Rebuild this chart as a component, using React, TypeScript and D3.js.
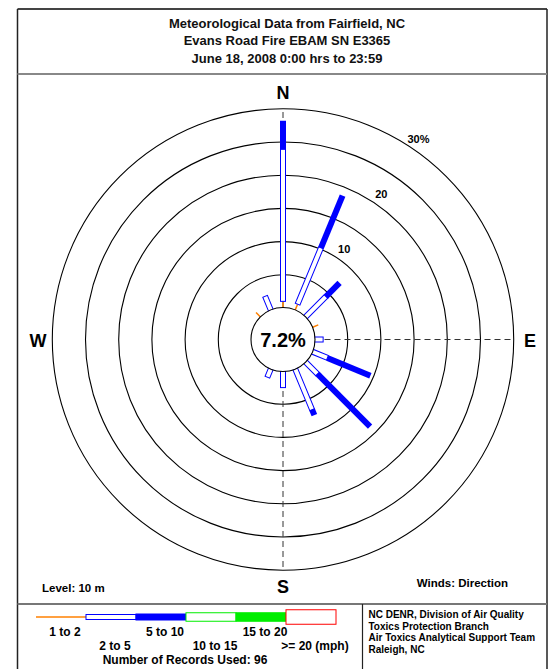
import React from "react";
import * as d3 from "d3";

// ---------- data (percent of records) ----------
const directions = ["N", "NNE", "NE", "ENE", "E", "ESE", "SE", "SSE", "S", "SSW", "SW", "WSW", "W", "WNW", "NW", "NNW"];
const speed1to2 = [1.0, 1.0, 0, 1.0, 0, 0, 0, 0, 0, 0, 0, 0, 0, 0, 1.0, 0];
const speed2to5 = [22.9, 9.2, 4.4, 0, 1.3, 2.5, 2.6, 6.7, 2.5, 1.4, 0, 0, 0, 0, 0, 2.3];
const speed5to10 = [4.3, 8.5, 2.9, 0, 0, 7.0, 11.2, 0.9, 0, 0, 0, 0, 0, 0, 0, 0];
const speed10to15 = [0, 0, 0, 0, 0, 0, 0, 0, 0, 0, 0, 0, 0, 0, 0, 0];
const speed15to20 = [0, 0, 0, 0, 0, 0, 0, 0, 0, 0, 0, 0, 0, 0, 0, 0];
const speed20plus = [0, 0, 0, 0, 0, 0, 0, 0, 0, 0, 0, 0, 0, 0, 0, 0];
const calmPercent = 7.2;

const ringValues = [5, 10, 15, 20, 25, 30];
const labeledRings = [10, 20, 30];
const ringLabelTexts = ["10", "20", "30%"];

const speedClasses = ["1 to 2", "2 to 5", "5 to 10", "10 to 15", "15 to 20", ">= 20 (mph)"];
const titleLines = [
  "Meteorological Data from Fairfield, NC",
  "Evans Road Fire EBAM SN E3365",
  "June 18, 2008 0:00 hrs to 23:59",
];
const agencyLines = [
  "NC DENR, Division of Air Quality",
  "Toxics Protection Branch",
  "Air Toxics Analytical Support Team",
  "Raleigh, NC",
];
const recordsUsed = 96;
const levelText = "Level: 10 m";
const windsText = "Winds: Direction";

// ---------- styles ----------
const FONT = "'Liberation Sans', Arial, Helvetica, sans-serif";
const classStyles = [
  { kind: "line", color: "#ff8000", w: 1.5 },
  { kind: "hollow", color: "#0000ff", w: 5 },
  { kind: "filled", color: "#0000ff", w: 6 },
  { kind: "hollow", color: "#00ee00", w: 8.5 },
  { kind: "filled", color: "#00ee00", w: 8.5 },
  { kind: "hollow", color: "#ff0000", w: 14.5 },
];

const W = 554;
const H = 669;
const cx = 283;
const cy = 339.5;
const r0 = 31.5;
const rMax = 230.7;

export default function App() {
  const series = [speed1to2, speed2to5, speed5to10, speed10to15, speed15to20, speed20plus];
  const rScale = d3.scaleLinear().domain([0, 30]).range([r0, rMax]);
  const angle = d3.scaleBand().domain(directions).range([0, 360]).align(0).paddingInner(0).paddingOuter(0);
  const bearing = (d: string) => angle(d) as number;

  const legendX = d3.scaleBand().domain(speedClasses).range([36, 336]);
  const legendY = 617;

  const bars: React.ReactNode[] = [];
  directions.forEach((dir, i) => {
    let cum = 0;
    series.forEach((s, c) => {
      const v = s[i];
      if (v <= 0) return;
      const ra = rScale(cum);
      const rb = rScale(cum + v);
      cum += v;
      const st = classStyles[c];
      const tr = `translate(${cx},${cy}) rotate(${bearing(dir)})`;
      if (st.kind === "line") {
        bars.push(
          <line key={`${dir}-${c}`} x1={0} x2={0} y1={-ra} y2={-rb} stroke={st.color} strokeWidth={st.w} transform={tr} />
        );
      } else {
        bars.push(
          <rect
            key={`${dir}-${c}`}
            x={-st.w / 2}
            y={-rb}
            width={st.w}
            height={rb - ra}
            fill={st.kind === "filled" ? st.color : "#ffffff"}
            stroke={st.kind === "filled" ? "none" : st.color}
            strokeWidth={1}
            transform={tr}
          />
        );
      }
    });
  });

  const dashedDirs = ["N", "E", "S"];
  const labelAngle = 34;

  return (
    <svg
      width={W}
      height={H}
      style={{ position: "absolute", left: 0, top: 0, background: "#fff", fontFamily: FONT }}
    >
      <rect x={0} y={0} width={W} height={H} fill="#fff" />
      {/* frame */}
      <line x1={17.5} x2={547} y1={9} y2={9} stroke="#444" strokeWidth={2} />
      <line x1={17.5} x2={17.5} y1={9} y2={H} stroke="#222" strokeWidth={1.5} />
      <line x1={547} x2={547} y1={9} y2={H} stroke="#222" strokeWidth={1.5} />
      <line x1={17.5} x2={547} y1={74} y2={74} stroke="#888" strokeWidth={2} />
      <line x1={17.5} x2={547} y1={604} y2={604} stroke="#777" strokeWidth={2} />
      <line x1={362.5} x2={362.5} y1={604} y2={H} stroke="#222" strokeWidth={1.2} />

      {/* title */}
      {titleLines.map((t, i) => (
        <text key={t} x={287} y={27.5 + i * 17.5} textAnchor="middle" fontSize={13} fontWeight="bold" fill="#111">
          {t}
        </text>
      ))}

      {/* rings */}
      {ringValues.map((v) => (
        <circle key={v} cx={cx} cy={cy} r={rScale(v)} fill="none" stroke="#000" strokeWidth={1.1} />
      ))}

      {/* dashed axes */}
      {dashedDirs.map((d) => (
        <line
          key={d}
          x1={0}
          x2={0}
          y1={-r0}
          y2={-rMax}
          stroke="#333"
          strokeWidth={1}
          strokeDasharray="6,4"
          transform={`translate(${cx},${cy}) rotate(${bearing(d)})`}
        />
      ))}

      {/* bars */}
      {bars}

      {/* calm circle */}
      <circle cx={cx} cy={cy} r={r0 + 0.5} fill="#fff" stroke="#000" strokeWidth={1.1} />
      <text x={cx} y={cy + 7} textAnchor="middle" fontSize={20} fontWeight="bold" fill="#000">
        {`${calmPercent.toFixed(1)}%`}
      </text>

      {/* ring labels */}
      {labeledRings.map((v, i) => {
        const rr = rScale(v) + 11.5;
        const a = (labelAngle * Math.PI) / 180;
        return (
          <text
            key={v}
            x={cx + rr * Math.sin(a)}
            y={cy - rr * Math.cos(a) + 4}
            textAnchor="middle"
            fontSize={11}
            fontWeight="bold"
            fill="#000"
          >
            {ringLabelTexts[i]}
          </text>
        );
      })}

      {/* compass letters */}
      <text x={cx} y={98.5} textAnchor="middle" fontSize={18} fontWeight="bold">N</text>
      <text x={cx} y={593} textAnchor="middle" fontSize={18} fontWeight="bold">S</text>
      <text x={38} y={346.5} textAnchor="middle" fontSize={18} fontWeight="bold">W</text>
      <text x={530} y={346.5} textAnchor="middle" fontSize={18} fontWeight="bold">E</text>

      <text x={42} y={592} fontSize={11.5} fontWeight="bold">{levelText}</text>
      <text x={508} y={587} textAnchor="end" fontSize={11.5} fontWeight="bold">{windsText}</text>

      {/* legend */}
      {speedClasses.map((s, c) => {
        const st = classStyles[c];
        const x0 = legendX(s) as number;
        const bw = legendX.bandwidth();
        if (st.kind === "line") {
          return <line key={s} x1={x0} x2={x0 + bw} y1={legendY} y2={legendY} stroke={st.color} strokeWidth={st.w} />;
        }
        return (
          <rect
            key={s}
            x={x0}
            y={legendY - st.w / 2}
            width={bw}
            height={st.w}
            fill={st.kind === "filled" ? st.color : "#fff"}
            stroke={st.color}
            strokeWidth={1}
          />
        );
      })}
      {speedClasses.map((s, c) => (
        <text
          key={`lbl-${s}`}
          x={(legendX(s) as number) + legendX.bandwidth() / 2 + 4}
          y={c % 2 === 0 ? 636 : 650}
          textAnchor="middle"
          fontSize={12}
          fontWeight="bold"
        >
          {s}
        </text>
      ))}
      <text x={185} y={664} textAnchor="middle" fontSize={12} fontWeight="bold">
        {`Number of Records Used: ${recordsUsed}`}
      </text>
      {agencyLines.map((t, i) => (
        <text key={t} x={368.5} y={618 + i * 11.5} fontSize={10} fontWeight="bold">
          {t}
        </text>
      ))}
    </svg>
  );
}
